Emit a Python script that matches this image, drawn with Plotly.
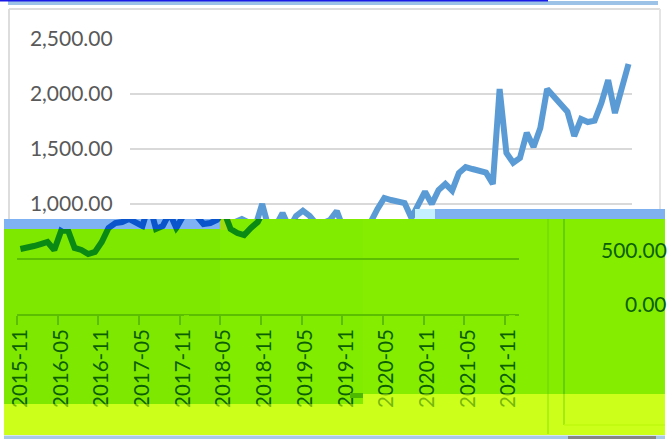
import plotly.graph_objects as go

W, H = 669, 439

months = []
_y, _m = 2015, 11
for _ in range(74):
    months.append(f"{_y}-{_m:02d}")
    _m += 1
    if _m > 12:
        _m = 1
        _y += 1

values = [591, 600, 618, 636, 655, 582, 755, 764, 600, 582,
          545, 564, 655, 782, 827, 836, 864, 827, 800, 1000,
          773, 800, 918, 782, 891, 939, 891, 818, 827, 855,
          936, 773, 736, 718, 782, 836, 955, 1055, 1036, 1023,
          1009, 873, 991, 1112, 1000, 1127, 1182, 1121, 1282, 1336,
          1318, 1300, 1285, 1182, 2045, 1464, 1375, 1418, 1648, 1518,
          1691, 2045, 1982, 1909, 1839, 1618, 1773, 1745, 1757, 1918,
          2127, 1827, 2066, 2273]

upper_ticks = [1000, 1500, 2000, 2500]
lower_ticks = [500]
wrapped_labels = ["500.00", "0.00"]

BLUE = "#5B9BD5"
DARK_BLUE = "#0A55CC"
DARK_GREEN = "#0A8A14"
TEXT_GREEN = "#0C5F00"
GRID_GREEN = "#5CBE00"
YELLOW = "#CCFF1A"
FONT = "Lato"
LINE_W = 6


def px(x):
    return x / W


def py(y):
    return 1 - y / H


def rect(x0, y0, x1, y1, color, layer="below"):
    return dict(type="rect", xref="paper", yref="paper", x0=px(x0), x1=px(x1),
                y0=py(y1), y1=py(y0), fillcolor=color, line_width=0, layer=layer)


def seg(x0, y0, x1, y1, color, w=2, layer="below"):
    return dict(type="line", xref="paper", yref="paper", x0=px(x0), x1=px(x1),
                y0=py(y1), y1=py(y0), line=dict(color=color, width=w), layer=layer)


fig = go.Figure()


def add(n, color):
    fig.add_trace(go.Scatter(x=months, y=values, mode="lines", xaxis=f"x{n}", yaxis=f"y{n}",
                             line=dict(color=color, width=LINE_W, shape="linear"),
                             showlegend=False, hoverinfo="skip"))


for n, c in [(1, BLUE), (2, DARK_BLUE), (3, DARK_GREEN), (4, DARK_GREEN)]:
    add(n, c)

step = 6.78
xa = 20.4


def idx(x):
    return (x - xa) / step


def lower_x(dom0, dom1, n):
    return dict(type="category", categoryorder="array", categoryarray=months,
                anchor=f"y{n}", domain=[px(dom0), px(dom1)], range=[idx(dom0), idx(dom1)],
                tickmode="array", tickvals=months[::6], ticktext=months[::6],
                tickson="boundaries", ticks="outside", ticklen=9, tickwidth=1.6,
                tickcolor=GRID_GREEN, tickangle=-90, showgrid=False, ticklabelstandoff=5,
                showline=True, linecolor=GRID_GREEN, linewidth=1.6,
                tickfont=dict(family=FONT, size=20.5, color=TEXT_GREEN))


def lower_y(y0, y1, n):
    return dict(anchor=f"x{n}", domain=[py(y1), py(y0)], range=[(314 - y1) / 0.11, (314 - y0) / 0.11],
                tickmode="array", tickvals=lower_ticks, showticklabels=False, ticks="",
                showgrid=True, gridcolor=GRID_GREEN, gridwidth=1.6, zeroline=False, showline=False)


shapes = [
    # chart frame
    seg(9, 9, 660, 9, "#DDDDDD"),
    seg(9, 9, 9, 219, "#DDDDDD"),
    seg(660, 9, 660, 209, "#E4E4E4"),
    # top edge bars
    rect(8, 1, 658, 5, "#9CC2E8"),
    rect(0, 0, 548, 1.4, "#1A1AE6"),
    # green body
    rect(4, 229, 220, 404, "#7FE800"),
    rect(220, 219, 363, 404, "#82EC00"),
    rect(363, 219, 665, 394, "#85EE00"),
    # olive transition patch
    rect(220, 219, 232, 230, "#A0DC10"),
    # lower-left strip
    rect(4, 219, 220, 229, "#7FB2F2"),
    # yellow band
    rect(4, 404, 363, 435, YELLOW),
    rect(363, 394, 665, 435, YELLOW),
    # wrapped chart borders
    seg(548, 219, 548, 434, "#74DC00", 1.6),
    seg(564, 219, 564, 425, "#5CC800", 1.6),
    seg(564, 425, 665, 425, "#AEF000", 1.6),
    # bottom edge
    rect(4, 435.5, 665, 439, "#A9C9E8"),
    rect(568, 436, 656, 439, "#858585"),
    # right strip, over the upper line's panel
    rect(415, 209, 665, 219, "#7FB0F0", "above"),
    rect(415, 209, 435, 219, "#C4F0FF", "above"),
    rect(350, 393, 363, 398, "#4CB800", "above"),
    # hides the closing boundary tick of each lower panel
    rect(184, 315.2, 189, 325, "#7FE800", "above"),
    rect(509, 315.2, 515, 325, "#85EE00", "above"),
    # lightens the tick label ends that fall in the yellow band
    rect(4, 404, 363, 435, "rgba(204,255,26,0.55)", "above"),
    rect(363, 394, 665, 435, "rgba(204,255,26,0.55)", "above"),
]

annotations = [
    dict(x=px(669), y=py(249), xref="paper", yref="paper", text=wrapped_labels[0], showarrow=False,
         xanchor="right", yanchor="middle", font=dict(family=FONT, size=21, color=TEXT_GREEN)),
    dict(x=px(669), y=py(303.5), xref="paper", yref="paper", text=wrapped_labels[1], showarrow=False,
         xanchor="right", yanchor="middle", font=dict(family=FONT, size=21, color=TEXT_GREEN)),
]

fig.update_layout(
    width=W, height=H, autosize=False,
    margin=dict(l=0, r=0, t=0, b=0, autoexpand=False),
    paper_bgcolor="white", plot_bgcolor="rgba(0,0,0,0)",
    shapes=shapes, annotations=annotations, showlegend=False,
    # upper panel: the real, unshifted plot
    xaxis=dict(type="category", categoryorder="array", categoryarray=months, anchor="y",
               domain=[px(129.9), px(631.9)], range=[-0.5, 73.5], visible=False),
    yaxis=dict(anchor="x", domain=[py(219), py(39)], range=[(314 - 219) / 0.11, 2500],
               tickmode="array", tickvals=upper_ticks, tickformat=",.2f",
               ticks="outside", ticklen=12, tickcolor="rgba(0,0,0,0)",
               showgrid=True, gridcolor="#D9D9D9", gridwidth=1.8, zeroline=False, showline=False,
               tickfont=dict(family=FONT, size=21, color="#595959")),
    # dark-blue strip
    xaxis2=dict(type="category", categoryorder="array", categoryarray=months, anchor="y2",
                domain=[px(4), px(220)], range=[idx(4), idx(220)], visible=False),
    yaxis2=dict(anchor="x2", domain=[py(229), py(219)], range=[(314 - 229) / 0.11, (314 - 219) / 0.11],
                visible=False),
    # green panels
    xaxis3=lower_x(17, 220, 3),
    yaxis3=lower_y(229, 314, 3),
    xaxis4=lower_x(220, 519, 4),
    yaxis4=lower_y(219, 314, 4),
)

fig.write_html("out.html", config={"displayModeBar": False},
               post_script="document.body.style.margin='0';")
